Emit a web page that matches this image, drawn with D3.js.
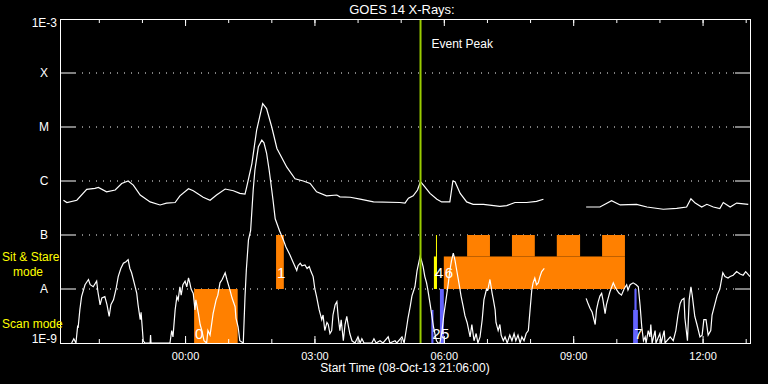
<!DOCTYPE html>
<html>
<head>
<meta charset="utf-8">
<script src="https://cdn.jsdelivr.net/npm/d3@7"></script>
<style>
  body { margin: 0; background: #000; }
  svg { display: block; font-family: "Liberation Sans", Arial, sans-serif; }
</style>
</head>
<body>
<div id="chart"></div>
<script>
const START = Date.UTC(2013, 9, 8, 21, 6);
const HOUR = 3600e3;

// [hours after start, flux W/m^2], null = data gap
const longChannel = [[0.08,4.4e-7],[0.16,4.0e-7],[0.39,4.4e-7],[0.62,7.0e-7],[0.81,7.3e-7],[0.89,7.6e-7],[1.08,6.3e-7],[1.28,6.8e-7],[1.43,9.0e-7],[1.58,1.0e-6],[1.70,8.4e-7],[1.86,5.5e-7],[2.09,4.1e-7],[2.32,3.6e-7],[2.47,3.9e-7],[2.67,4.0e-7],[2.78,5.3e-7],[2.98,7.2e-7],[3.09,6.6e-7],[3.32,5.0e-7],[3.48,4.4e-7],[3.63,5.5e-7],[3.83,7.1e-7],[4.02,6.6e-7],[4.17,5.9e-7],[4.29,5.7e-7],[4.33,7.8e-7],[4.45,2.1e-6],[4.56,8.8e-6],[4.70,2.7e-5],[4.79,2.2e-5],[4.91,1.0e-5],[5.03,4.0e-6],[5.26,1.8e-6],[5.45,1.1e-6],[5.64,1.0e-6],[5.80,9.0e-7],[5.95,6.3e-7],[6.18,5.3e-7],[6.42,5.5e-7],[6.49,5.1e-7],[6.73,5.0e-7],[6.96,4.6e-7],[7.27,4.1e-7],[7.88,4.0e-7],[8.00,3.9e-7],[8.08,4.8e-7],[8.19,5.3e-7],[8.29,6.8e-7],[8.36,9.7e-7],[8.46,7.8e-7],[8.58,5.9e-7],[8.74,4.6e-7],[8.85,4.1e-7],[9.04,4.1e-7],[9.11,1.0e-6],[9.16,9.7e-7],[9.28,5.9e-7],[9.43,4.1e-7],[9.58,3.7e-7],[9.82,3.7e-7],[10.20,3.4e-7],[10.36,3.5e-7],[10.55,4.0e-7],[10.82,4.0e-7],[11.05,4.2e-7],[11.21,4.6e-7],[11.70,null],[12.20,3.3e-7],[12.52,3.3e-7],[12.79,4.3e-7],[12.99,3.6e-7],[13.37,3.7e-7],[13.61,3.3e-7],[13.99,3.0e-7],[14.30,3.1e-7],[14.53,3.3e-7],[14.63,4.7e-7],[14.73,3.9e-7],[14.88,3.3e-7],[15.00,3.7e-7],[15.15,3.3e-7],[15.30,3.1e-7],[15.38,4.0e-7],[15.54,3.3e-7],[15.69,3.9e-7],[15.96,3.7e-7]];

const shortChannel = [[0.27,1.0e-9],[0.32,1.2e-9],[0.37,1.0e-9],[0.41,2.1e-9],[0.42,1.9e-9],[0.46,4.1e-9],[0.50,7.2e-9],[0.58,1.2e-8],[0.66,1.5e-8],[0.70,1.2e-8],[0.77,1.1e-8],[0.85,1.4e-8],[0.88,8.8e-9],[0.93,5.1e-9],[0.97,6.8e-9],[1.04,7.2e-9],[1.09,5.1e-9],[1.14,3.1e-9],[1.18,5.1e-9],[1.24,6.3e-9],[1.30,1.0e-8],[1.35,1.7e-8],[1.41,2.4e-8],[1.47,3.0e-8],[1.53,3.2e-8],[1.58,3.5e-8],[1.62,2.4e-8],[1.66,2.0e-8],[1.72,1.3e-8],[1.78,8.3e-9],[1.81,5.1e-9],[1.86,2.7e-9],[1.88,3.7e-9],[1.93,1.1e-9],[1.97,1.0e-9],[2.09,1.0e-9],[2.10,1.4e-9],[2.11,1.0e-9],[2.55,1.0e-9],[2.59,1.7e-9],[2.62,1.3e-9],[2.67,4.1e-9],[2.71,7.2e-9],[2.74,6.3e-9],[2.78,1.1e-8],[2.81,7.7e-9],[2.85,1.2e-8],[2.90,1.4e-8],[2.94,1.1e-8],[2.98,1.6e-8],[3.01,1.3e-8],[3.04,1.0e-8],[3.09,8.3e-9],[3.13,4.1e-9],[3.15,6.3e-9],[3.21,3.5e-9],[3.25,2.2e-9],[3.29,1.7e-9],[3.34,1.1e-9],[3.40,1.0e-9],[3.43,1.7e-9],[3.48,1.4e-9],[3.55,3.5e-9],[3.62,6.3e-9],[3.66,7.7e-9],[3.71,1.3e-8],[3.76,1.5e-8],[3.83,2.0e-8],[3.87,1.5e-8],[3.94,9.6e-9],[3.99,6.8e-9],[4.06,4.7e-9],[4.08,2.9e-9],[4.13,2.0e-9],[4.17,1.1e-9],[4.25,1.0e-9],[4.29,7.2e-9],[4.32,2.2e-8],[4.37,8.1e-8],[4.42,1.2e-7],[4.48,6.8e-7],[4.52,1.6e-6],[4.60,4.3e-6],[4.68,5.7e-6],[4.73,5.1e-6],[4.79,3.3e-6],[4.85,1.6e-6],[4.91,6.8e-7],[4.94,4.4e-7],[4.99,2.0e-7],[5.09,1.2e-7],[5.18,8.1e-8],[5.24,6.0e-8],[5.33,4.3e-8],[5.40,3.2e-8],[5.49,2.2e-8],[5.52,2.7e-8],[5.57,3.0e-8],[5.61,2.7e-8],[5.68,2.8e-8],[5.73,2.4e-8],[5.78,2.6e-8],[5.82,2.1e-8],[5.87,1.7e-8],[5.91,1.0e-8],[5.95,7.2e-9],[6.01,4.1e-9],[6.07,2.7e-9],[6.10,3.3e-9],[6.14,1.7e-9],[6.19,2.4e-9],[6.22,2.2e-9],[6.26,1.5e-9],[6.30,1.7e-9],[6.33,3.3e-9],[6.38,5.1e-9],[6.42,5.8e-9],[6.45,3.1e-9],[6.49,1.7e-9],[6.52,2.7e-9],[6.57,1.1e-9],[6.61,2.2e-9],[6.65,3.1e-9],[6.68,2.2e-9],[6.72,1.5e-9],[6.77,1.1e-9],[6.84,1.0e-9],[6.91,1.3e-9],[6.96,1.0e-9],[7.00,1.2e-9],[7.05,1.0e-9],[7.23,1.0e-9],[7.28,1.2e-9],[7.33,1.0e-9],[7.42,1.1e-9],[7.49,1.0e-9],[7.61,1.3e-9],[7.65,1.0e-9],[7.77,1.1e-9],[7.81,1.0e-9],[7.93,1.3e-9],[7.98,1.0e-9],[8.04,2.0e-9],[8.07,2.9e-9],[8.12,4.7e-9],[8.16,7.4e-9],[8.23,1.1e-8],[8.28,2.2e-8],[8.35,4.0e-8],[8.38,3.4e-8],[8.42,2.6e-8],[8.46,1.7e-8],[8.50,1.3e-8],[8.53,9.6e-9],[8.58,5.4e-9],[8.63,2.9e-9],[8.66,2.0e-9],[8.70,1.4e-9],[8.73,1.1e-9],[8.77,1.0e-9],[8.81,1.0e-9],[8.86,1.7e-9],[8.90,3.3e-9],[8.95,6.3e-9],[9.00,1.2e-8],[9.04,2.2e-8],[9.08,3.4e-8],[9.12,4.6e-8],[9.16,3.4e-8],[9.20,2.2e-8],[9.25,1.3e-8],[9.30,7.4e-9],[9.35,4.7e-9],[9.39,3.2e-9],[9.44,2.4e-9],[9.51,1.3e-9],[9.55,2.2e-9],[9.60,1.1e-9],[9.65,1.5e-9],[9.69,1.0e-9],[9.74,1.3e-9],[9.79,2.7e-9],[9.83,6.3e-9],[9.89,1.0e-8],[9.92,9.6e-9],[9.97,1.5e-8],[10.02,8.4e-9],[10.05,6.3e-9],[10.09,4.1e-9],[10.11,2.4e-9],[10.16,1.7e-9],[10.20,2.2e-9],[10.23,1.4e-9],[10.28,1.1e-9],[10.32,1.3e-9],[10.37,1.0e-9],[10.43,1.4e-9],[10.48,1.1e-9],[10.53,1.5e-9],[10.57,1.1e-9],[10.62,1.4e-9],[10.67,1.0e-9],[10.71,1.3e-9],[10.76,1.1e-9],[10.81,1.5e-9],[10.86,1.7e-9],[10.90,4.1e-9],[10.94,9.6e-9],[10.97,1.3e-8],[11.01,1.6e-8],[11.05,1.2e-8],[11.09,1.3e-8],[11.13,1.7e-8],[11.17,2.1e-8],[11.23,2.4e-8],[11.70,null],[12.20,6.7e-9],[12.24,5.5e-9],[12.29,4.4e-9],[12.34,3.7e-9],[12.41,2.2e-9],[12.44,4.1e-9],[12.48,5.8e-9],[12.52,7.4e-9],[12.56,8.3e-9],[12.59,6.3e-9],[12.64,3.5e-9],[12.67,5.1e-9],[12.71,6.7e-9],[12.75,8.8e-9],[12.83,1.3e-8],[12.87,1.1e-8],[12.91,9.6e-9],[12.96,8.4e-9],[13.02,7.7e-9],[13.08,1.0e-8],[13.14,1.2e-8],[13.17,9.6e-9],[13.22,1.2e-8],[13.29,1.3e-8],[13.36,1.2e-8],[13.41,1.1e-8],[13.45,5.1e-9],[13.49,2.0e-9],[13.53,1.1e-9],[13.57,1.3e-9],[13.59,1.0e-9],[13.64,1.7e-9],[13.68,1.3e-9],[13.70,2.2e-9],[13.73,1.0e-9],[13.80,1.7e-9],[13.82,1.0e-9],[13.91,1.5e-9],[13.94,1.0e-9],[14.01,1.7e-9],[14.03,1.0e-9],[14.15,1.3e-9],[14.22,1.1e-9],[14.28,1.7e-9],[14.33,3.3e-9],[14.38,5.4e-9],[14.42,6.3e-9],[14.47,6.7e-9],[14.49,2.9e-9],[14.55,1.1e-9],[14.59,6.3e-9],[14.63,1.1e-8],[14.66,7.7e-9],[14.72,3.1e-9],[14.77,2.2e-9],[14.84,1.3e-9],[14.89,1.4e-9],[14.93,2.7e-9],[14.98,2.7e-9],[15.03,1.4e-9],[15.09,1.7e-9],[15.12,3.3e-9],[15.19,5.4e-9],[15.24,7.7e-9],[15.30,1.0e-8],[15.37,2.0e-8],[15.42,1.7e-8],[15.49,1.6e-8],[15.54,1.7e-8],[15.61,1.8e-8],[15.69,2.1e-8],[15.77,1.9e-8],[15.84,1.8e-8],[15.90,2.1e-8],[16.00,1.7e-8]];

const levelFlux = [1e-9, 1e-8, 1e-7, 1e-6, 1e-5, 1e-4, 1e-3];
const levelLabels = ["1E-9", "A", "B", "C", "M", "X", "1E-3"];

// observing blocks: [start h, end h, low flux, high flux]
const sitStareBlocks = [[3.11,4.12,1e-9,1e-8],[5.01,5.19,1e-8,1e-7],[8.90,13.10,1e-8,4e-8],[9.44,9.97,4e-8,1e-7],[10.48,11.01,4e-8,1e-7],[11.52,12.06,4e-8,1e-7],[12.57,13.10,4e-8,1e-7]];
const scanBlocks = [[8.61,8.66,1e-9,4.1e-9],[8.81,8.90,1e-9,1e-8],[13.29,13.40,1e-9,4.1e-9],[13.32,13.37,4.1e-9,1e-8]];
const otherBlocks = [[8.67,8.73,1e-8,4e-8]];
const otherLines = [[8.73,1e-8,1e-7]];
// [label, h, flux at baseline]
const blockLabels = [["0",3.11,1.2e-9],["1",5.01,1.6e-8],["4",8.67,1.6e-8],["6",8.90,1.6e-8],["2",8.61,1.2e-9],["5",8.81,1.2e-9],["7",13.29,1.2e-9]];
const eventPeak = 8.36;

const t = h => new Date(START + h * HOUR);

const svg = d3.select("#chart").append("svg")
  .attr("width", 768)
  .attr("height", 384)
  .style("background", "#000");

const x = d3.scaleUtc()
  .domain([t(0), t(16)])
  .range([60, 750]);
const y = d3.scaleLog()
  .domain([1e-9, 1e-3])
  .range([343, 19]);

svg.append("clipPath").attr("id", "plot")
  .append("rect").attr("x", 60).attr("y", 19).attr("width", 690).attr("height", 324);

// grid levels
levelFlux.slice(1, -1).forEach(f => {
  svg.append("line")
    .attr("x1", 75).attr("x2", 735)
    .attr("y1", y(f)).attr("y2", y(f))
    .attr("stroke", "#fff")
    .attr("stroke-dasharray", "1 6");
  svg.append("line")
    .attr("x1", 60).attr("x2", 75)
    .attr("y1", y(f)).attr("y2", y(f))
    .attr("stroke", "#fff");
  svg.append("line")
    .attr("x1", 735).attr("x2", 750)
    .attr("y1", y(f)).attr("y2", y(f))
    .attr("stroke", "#fff");
});

const drawBlocks = (rows, color) => {
  svg.append("g").selectAll("rect").data(rows).join("rect")
    .attr("x", d => x(t(d[0])))
    .attr("width", d => x(t(d[1])) - x(t(d[0])))
    .attr("y", d => y(d[3]))
    .attr("height", d => y(d[2]) - y(d[3]))
    .attr("fill", color);
};
drawBlocks(sitStareBlocks, "#ff8000");
drawBlocks(scanBlocks, "#6464ff");
drawBlocks(otherBlocks, "#ffff00");
otherLines.forEach(d => {
  svg.append("line")
    .attr("x1", x(t(d[0]))).attr("x2", x(t(d[0])))
    .attr("y1", y(d[1])).attr("y2", y(d[2]))
    .attr("stroke", "#ffff00");
});

// curves
const line = d3.line()
  .defined(d => d[1] != null)
  .x(d => x(t(d[0])))
  .y(d => y(Math.max(d[1], 1e-9)));

[longChannel, shortChannel].forEach(data => {
  svg.append("path")
    .datum(data)
    .attr("clip-path", "url(#plot)")
    .attr("d", line)
    .attr("fill", "none")
    .attr("stroke", "#fff")
    .attr("stroke-width", 1.2);
});

svg.append("g").selectAll("text").data(blockLabels).join("text")
  .attr("x", d => x(t(d[1])) + 1)
  .attr("y", d => y(d[2]))
  .attr("fill", "#fff")
  .attr("font-size", 15)
  .text(d => d[0]);

// event peak
svg.append("line")
  .attr("x1", x(t(eventPeak))).attr("x2", x(t(eventPeak)))
  .attr("y1", 19).attr("y2", 343)
  .attr("stroke", "#99cc00")
  .attr("stroke-width", 2);
svg.append("text")
  .attr("x", x(t(eventPeak)) + 11)
  .attr("y", 48)
  .attr("fill", "#fff")
  .attr("font-size", 12)
  .text("Event Peak");

// frame
svg.append("rect")
  .attr("x", 60).attr("y", 19).attr("width", 690).attr("height", 324)
  .attr("fill", "none")
  .attr("stroke", "#fff")
  .attr("shape-rendering", "crispEdges");

const styleAxis = g => {
  g.select(".domain").remove();
  g.selectAll("line").attr("stroke", "#fff");
  g.selectAll("text").attr("fill", "#fff").attr("font-size", 11)
    .attr("font-family", "Liberation Sans, Arial, sans-serif");
};

// top ticks
svg.append("g").attr("transform", "translate(0,19)")
  .call(d3.axisBottom(x).ticks(d3.utcHour.every(1)).tickSize(4).tickFormat(""))
  .call(styleAxis);
svg.append("g").attr("transform", "translate(0,19)")
  .call(d3.axisBottom(x).ticks(d3.utcHour.every(3)).tickSize(7).tickFormat(""))
  .call(styleAxis);

// bottom ticks
svg.append("g").attr("transform", "translate(0,343)")
  .call(d3.axisBottom(x).ticks(d3.utcHour.every(1)).tickSize(-4).tickFormat(""))
  .call(styleAxis);
svg.append("g").attr("transform", "translate(0,343)")
  .call(d3.axisBottom(x).ticks(d3.utcHour.every(3)).tickSize(-7).tickPadding(9)
    .tickFormat(d3.utcFormat("%H:%M")))
  .call(styleAxis);

// y labels
svg.append("g").selectAll("text").data(levelFlux).join("text")
  .attr("x", (d, i) => levelLabels[i].length > 1 ? 57 : 44)
  .attr("y", (d, i) => i === 0 ? 343 : i === levelFlux.length - 1 ? 27 : y(d) + 4)
  .attr("text-anchor", (d, i) => levelLabels[i].length > 1 ? "end" : "middle")
  .attr("fill", "#fff")
  .attr("font-size", 12)
  .text((d, i) => levelLabels[i]);

svg.append("text")
  .attr("x", 402).attr("y", 14)
  .attr("text-anchor", "middle")
  .attr("fill", "#fff")
  .attr("font-size", 13)
  .text("GOES 14 X-Rays:");

svg.append("text")
  .attr("x", 405).attr("y", 372)
  .attr("text-anchor", "middle")
  .attr("fill", "#fff")
  .attr("font-size", 12)
  .text("Start Time (08-Oct-13 21:06:00)");

// mode labels
svg.append("text").attr("x", 2).attr("y", 261).attr("fill", "#ffff00").attr("font-size", 12).text("Sit & Stare");
svg.append("text").attr("x", 13).attr("y", 276).attr("fill", "#ffff00").attr("font-size", 12).text("mode");
svg.append("text").attr("x", 2).attr("y", 328).attr("fill", "#ffff00").attr("font-size", 12).text("Scan mode");
</script>
</body>
</html>
